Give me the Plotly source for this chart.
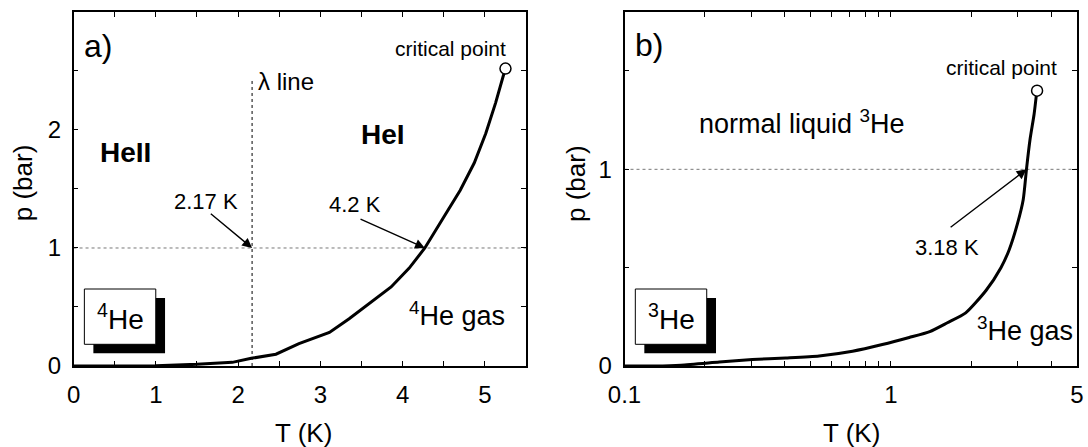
import numpy as np
import plotly.graph_objects as go

# ---------------- data ----------------
# (a) 4He liquid-vapour coexistence curve
HE4_T = [0.0, 0.5, 1.0, 1.5, 1.93, 2.16, 2.46, 2.74, 3.11, 3.35, 3.59, 3.86, 4.08, 4.27, 4.48, 4.70, 4.87, 5.01, 5.13, 5.24]
HE4_P = [0.0, 0.0, 0.003, 0.014, 0.031, 0.065, 0.10, 0.19, 0.285, 0.40, 0.53, 0.67, 0.83, 1.0, 1.24, 1.49, 1.72, 1.97, 2.23, 2.50]
HE4_CRIT_T = [5.25]
HE4_CRIT_P = [2.52]
LAMBDA_T = [2.17, 2.17]
LAMBDA_P = [0.0, 2.42]

# (b) 3He liquid-vapour coexistence curve
HE3_T = [0.1, 0.13, 0.163, 0.227, 0.302, 0.403, 0.538, 0.718, 0.929, 1.172, 1.40, 1.63, 1.91, 2.28, 2.59, 2.78, 2.99, 3.14, 3.23, 3.33, 3.45, 3.52]
HE3_P = [0.0, 0.0, 0.004, 0.02, 0.033, 0.041, 0.051, 0.075, 0.109, 0.145, 0.175, 0.22, 0.27, 0.385, 0.50, 0.59, 0.725, 0.845, 1.0, 1.15, 1.28, 1.38]
HE3_CRIT_T = [3.54]
HE3_CRIT_P = [1.40]

P_REF = 1.0  # 1 bar reference line

# ticks (labelled majors + unlabelled minors)
A_XTICKS = [0, 1, 2, 3, 4, 5]
A_XMINOR = [0.5, 1.5, 2.5, 3.5, 4.5]
A_YTICKS = [0, 1, 2]
A_YMINOR = [0.5, 1.5, 2.5]
B_XTICKS = [0.1, 1, 5]
B_XLABELS = ["0.1", "1", "5"]
B_XMINOR = [0.2, 0.3, 0.4, 0.5, 0.6, 0.7, 0.8, 0.9, 2, 3, 4]
B_YTICKS = [0, 1]
B_YMINOR = [0.5, 1.5]

FONT = "Liberation Sans, Arial, sans-serif"

fig = go.Figure()

# lambda line
fig.add_trace(go.Scatter(x=LAMBDA_T, y=LAMBDA_P, mode="lines",
                         line=dict(color="black", width=1, dash="dot"),
                         xaxis="x", yaxis="y", hoverinfo="skip"))
# He4 curve
fig.add_trace(go.Scatter(x=HE4_T, y=HE4_P, mode="lines",
                         line=dict(color="black", width=3),
                         xaxis="x", yaxis="y"))
fig.add_trace(go.Scatter(x=HE4_CRIT_T, y=HE4_CRIT_P, mode="markers",
                         marker=dict(size=11, color="white", line=dict(color="black", width=1.5)),
                         xaxis="x", yaxis="y"))
# He3 curve
fig.add_trace(go.Scatter(x=HE3_T, y=HE3_P, mode="lines",
                         line=dict(color="black", width=3, shape="spline", smoothing=0.6),
                         xaxis="x2", yaxis="y2"))
fig.add_trace(go.Scatter(x=HE3_CRIT_T, y=HE3_CRIT_P, mode="markers",
                         marker=dict(size=11, color="white", line=dict(color="black", width=1.5)),
                         xaxis="x2", yaxis="y2"))

YDOM = [0.1812, 0.9732]
common = dict(ticks="inside", ticklen=5, tickwidth=1, tickcolor="black",
              mirror="ticks", showline=True, linecolor="black", linewidth=1.5,
              showgrid=False, zeroline=False, ticklabelstandoff=6,
              tickfont=dict(size=24, color="black", family=FONT))

def minor(vals):
    return dict(tickmode="array", tickvals=vals, ticks="inside", ticklen=5,
                tickwidth=1, tickcolor="black", showgrid=False)

fig.update_layout(
    width=1088, height=447,
    margin=dict(l=0, r=0, t=0, b=0, autoexpand=False),
    paper_bgcolor="white", plot_bgcolor="white",
    showlegend=False,
    font=dict(family=FONT, color="black"),
    xaxis=dict(domain=[0.0676, 0.4835], range=[0, 5.5], anchor="y",
               tickmode="array", tickvals=A_XTICKS, minor=minor(A_XMINOR), **common),
    yaxis=dict(domain=YDOM, range=[0, 3], anchor="x",
               tickmode="array", tickvals=A_YTICKS, minor=minor(A_YMINOR), **common),
    xaxis2=dict(domain=[0.574, 0.9899], type="log", range=[-1, np.log10(5)], anchor="y2",
                tickmode="array", tickvals=B_XTICKS, ticktext=B_XLABELS,
                minor=minor(B_XMINOR), **common),
    yaxis2=dict(domain=YDOM, range=[0, 1.8], anchor="x2",
                tickmode="array", tickvals=B_YTICKS, minor=minor(B_YMINOR), **common),
)

# 1 bar reference lines
for xr, yr in (("x domain", "y"), ("x2 domain", "y2")):
    fig.add_shape(type="line", xref=xr, yref=yr, x0=0, x1=1, y0=P_REF, y1=P_REF,
                  line=dict(color="#777777", width=1, dash="dot"), layer="below")

# boxes with shadow
def add_box(xd, yd, sup):
    fig.add_shape(type="rect", xref=xd, yref=yd, x0=0.0438, x1=0.2022, y0=0.0359, y1=0.192,
                  fillcolor="black", line=dict(width=0))
    fig.add_shape(type="rect", xref=xd, yref=yd, x0=0.0239, x1=0.1817, y0=0.0613, y1=0.2175,
                  fillcolor="white", line=dict(color="black", width=1))
    fig.add_annotation(xref=xd, yref=yd, x=(0.0239 + 0.1817) / 2, y=(0.0613 + 0.2175) / 2,
                       xanchor="center", yanchor="middle",
                       text="<sup>%s</sup>He" % sup, showarrow=False, font=dict(size=28))

add_box("x domain", "y domain", "4")
add_box("x2 domain", "y2 domain", "3")

def txt(x, y, s, size, xref="x", yref="y", bold=False, **kw):
    if bold:
        s = "<b>%s</b>" % s
    fig.add_annotation(x=x, y=y, xref=xref, yref=yref, text=s, showarrow=False,
                       font=dict(size=size), **kw)

def arrow(x, y, ax, ay, xref="x", yref="y"):
    fig.add_annotation(x=x, y=y, ax=ax, ay=ay, xref=xref, yref=yref, axref=xref, ayref=yref,
                       text="", showarrow=True, arrowhead=2, arrowsize=1.4, arrowwidth=1.4,
                       arrowcolor="black")

# panel a annotations
txt(0.30, 2.71, "a)", 32)
txt(4.58, 2.69, "critical point", 21)
txt(2.22, 2.41, "λ line", 24, xanchor="left")
txt(0.63, 1.81, "HeII", 28, bold=True)
txt(3.76, 1.96, "HeI", 28, bold=True)
txt(1.61, 1.39, "2.17 K", 22)
txt(3.42, 1.37, "4.2 K", 22)
txt(4.66, 0.44, "<sup>4</sup>He gas", 27)
arrow(2.17, 1.0, 1.65, 1.30)
arrow(4.27, 1.0, 3.47, 1.25)

# panel b annotations (log axis -> log10 positions)
L = np.log10
txt(L(0.1237), 1.632, "b)", 32, xref="x2", yref="y2")
txt(L(2.595), 1.518, "critical point", 21, xref="x2", yref="y2")
txt(L(0.4628), 1.24, "normal liquid <sup>3</sup>He", 27, xref="x2", yref="y2")
txt(L(1.627), 0.604, "3.18 K", 22, xref="x2", yref="y2")
txt(L(3.19), 0.19, "<sup>3</sup>He gas", 27, xref="x2", yref="y2")
arrow(L(3.23), 1.0, L(1.655), 0.70, xref="x2", yref="y2")

# axis titles
for xp in (0.0214, 0.5294):
    fig.add_annotation(xref="paper", yref="paper", x=xp, y=0.5906, text="p (bar)",
                       xanchor="center", yanchor="middle",
                       textangle=-90, showarrow=False, font=dict(size=26))
for xp in (0.2785, 0.783):
    fig.add_annotation(xref="paper", yref="paper", x=xp, y=0.0324, text="T (K)",
                       xanchor="center", yanchor="middle",
                       showarrow=False, font=dict(size=26))

fig.write_html("out.html", config={"displayModeBar": False},
               post_script="document.body.style.margin='0';document.body.style.padding='0';")
